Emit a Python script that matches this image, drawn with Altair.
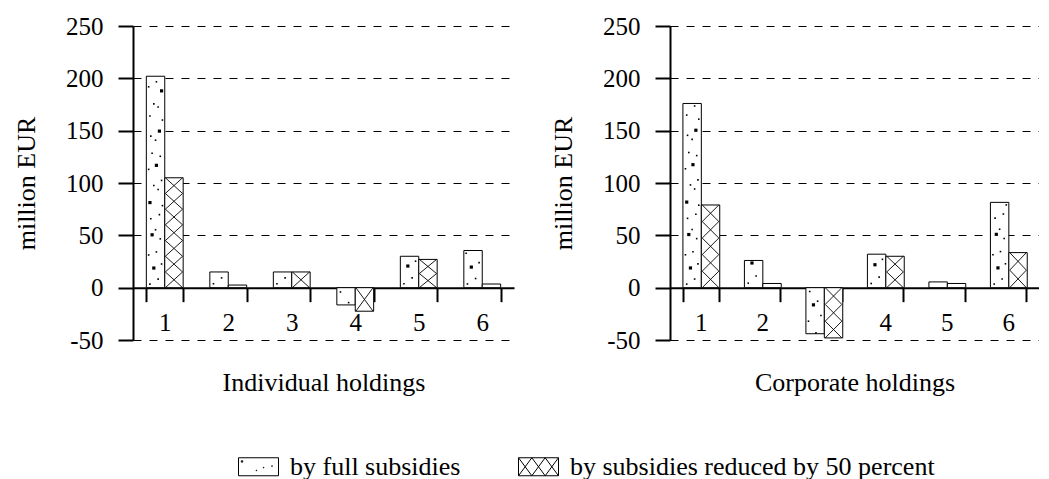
import altair as alt
import pandas as pd

# ---------------- data ----------------
categories = ["1", "2", "3", "4", "5", "6"]
series_names = ["by full subsidies", "by subsidies reduced by 50 percent"]
individual_full = [202, 15, 15, -16.5, 30, 35.5]
individual_reduced = [105, 2.5, 15, -22.5, 27, 3.5]
corporate_full = [176, 26, -44, 32, 5.5, 81.5]
corporate_reduced = [79, 4, -48, 30, 4, 33.5]
y_ticks = [-50, 0, 50, 100, 150, 200, 250]
panel_titles = ["Individual holdings", "Corporate holdings"]
y_title = "million EUR"

# ---------------- style ----------------
FONT = "Liberation Serif, Times New Roman, DejaVu Serif, serif"
PLOT_H = 314
Y_MIN, Y_MAX = -50, 250
PX = PLOT_H / (Y_MAX - Y_MIN)   # pixels per data unit
P_IN = 0.42


def table(full, reduced):
    rows = []
    for c, f, r in zip(categories, full, reduced):
        rows.append({"cat": c, "series": series_names[0], "value": f})
        rows.append({"cat": c, "series": series_names[1], "value": r})
    return pd.DataFrame(rows)


# legend swatches (custom symbol paths, unit = 20 px)
full_sym = ("M-1,-0.45H1V0.45H-1Z"
            "M-0.86,-0.3h0.07v0.07h-0.07Z"
            "M-0.12,0.17h0.03v0.03h-0.03Z"
            "M0.24,0.03h0.03v0.03h-0.03Z"
            "M0.66,-0.05h0.03v0.03h-0.03Z")
hatch_sym = "M-1,-0.45H1V0.45H-1Z"
for i in range(3):
    a = -1 + i * 2 / 3
    b = a + 2 / 3
    hatch_sym += f"M{a:.3f},-0.45L{b:.3f},0.45M{b:.3f},-0.45L{a:.3f},0.45"


def panel(full, reduced, title, width, with_legend):
    df = table(full, reduced)
    step = width / 6
    sub = step * (1 - P_IN) / 2
    hw = sub / 2 - 0.6

    x_axis = alt.Axis(
        title=title, orient="bottom", offset=-(0 - Y_MIN) * PX,
        tickBand="extent", tickSize=14, tickWidth=2, domainWidth=2,
        labelFontSize=25, labelPadding=9, labelAngle=0,
        titleFontSize=26, titlePadding=34, minExtent=48, maxExtent=48,
        grid=False)
    y_axis = alt.Axis(
        title=y_title, values=y_ticks, labelExpr="'' + datum.value",
        tickSize=15, tickWidth=2, domainWidth=2, labelFontSize=25,
        labelPadding=15, titleFontSize=26, titlePadding=24,
        minExtent=70, maxExtent=70,
        grid=True, gridDash=[8, 8], gridColor="black", gridWidth=1)

    def X():
        return alt.X("cat:N", sort=categories,
                     scale=alt.Scale(paddingInner=P_IN, paddingOuter=P_IN / 2),
                     axis=x_axis)

    def XO():
        return alt.XOffset("series:N", sort=series_names,
                           scale=alt.Scale(domain=series_names, paddingInner=0, paddingOuter=0))

    def Y(field):
        return alt.Y(f"{field}:Q", scale=alt.Scale(domain=[Y_MIN, Y_MAX], nice=False, zero=False),
                     axis=y_axis)

    base = alt.Chart(df)

    bars = base.mark_bar(fill="white", stroke="black", strokeWidth=1, opacity=1).encode(
        x=X(), xOffset=XO(), y=Y("value"))

    hatch = (
        base.transform_filter(alt.datum.series == series_names[1])
        .transform_calculate(hpx=f"abs(datum.value) * {PX}")
        .transform_calculate(n="datum.hpx < 6 ? 0 : max(1, round(datum.hpx / 16))")
        .transform_calculate(cp="datum.n > 0 ? datum.hpx / datum.n / 2 : 0",
                             idx="sequence(0, datum.n)")
        .transform_flatten(["idx"])
        .transform_calculate(
            ymid="(datum.idx + 0.5) * datum.value / datum.n",
            path=(f"'M-{hw:.2f},' + (-datum.cp) + 'L{hw:.2f},' + datum.cp + "
                  f"'M{hw:.2f},' + (-datum.cp) + 'L-{hw:.2f},' + datum.cp"))
        .mark_point(size=4, filled=False, stroke="black", strokeWidth=0.9, opacity=1)
        .encode(x=X(), xOffset=XO(), y=Y("ymid"), shape=alt.Shape("path:N", scale=None))
    )

    dots = (
        base.transform_filter(alt.datum.series == series_names[0])
        .transform_calculate(hpx=f"abs(datum.value) * {PX}")
        .transform_calculate(m="floor(datum.hpx / 7)")
        .transform_calculate(idx="sequence(0, datum.m)")
        .transform_flatten(["idx"])
        .transform_calculate(
            ymid="(datum.idx + 0.5) * datum.value / datum.m",
            dx=f"[-0.65, 0.3, -0.2, 0.7, -0.8, 0.1, 0.55, -0.4, 0.0, -0.55, 0.45, 0.8][datum.idx % 12] * {hw:.2f}",
            dy="[0, 2, -2, 1, -1, 3, -3][datum.idx % 7]",
            r="datum.idx % 5 == 2 ? 1.6 : 0.8")
        .transform_calculate(
            path="'M' + (datum.dx - datum.r) + ',' + (datum.dy - datum.r) + 'h' + (2 * datum.r) + "
                 "'v' + (2 * datum.r) + 'h' + (-2 * datum.r) + 'z'")
        .mark_point(size=4, filled=True, color="black", strokeWidth=0, opacity=1)
        .encode(x=X(), xOffset=XO(), y=Y("ymid"), shape=alt.Shape("path:N", scale=None))
    )

    layers = [bars, hatch, dots]
    if with_legend:
        leg = (
            base.transform_filter("false")
            .mark_point(size=1600, filled=False, opacity=1)
            .encode(shape=alt.Shape(
                "series:N",
                scale=alt.Scale(domain=series_names, range=[full_sym, hatch_sym]),
                legend=alt.Legend(
                    title=None, orient="none", legendX=105, legendY=420,
                    direction="horizontal", symbolSize=1600,
                    symbolFillColor="white", symbolStrokeColor="black",
                    symbolStrokeWidth=1, symbolOpacity=1,
                    labelFont=FONT, labelFontSize=26, labelColor="black",
                    labelOffset=11, columnPadding=55, labelLimit=0)))
        )
        layers.append(leg)

    return alt.layer(*layers).resolve_scale(shape="independent").properties(
        width=width, height=PLOT_H)


left = panel(individual_full, individual_reduced, panel_titles[0], 381, True)
right = panel(corporate_full, corporate_reduced, panel_titles[1], 369, False)

chart = (
    alt.hconcat(left, right, spacing=156, bounds="flush")
    .properties(padding={"left": 5, "top": 6, "right": 0, "bottom": 0})
    .configure_view(stroke=None)
    .configure_axis(labelFont=FONT, titleFont=FONT, titleFontWeight="normal",
                    labelColor="black", titleColor="black",
                    domainColor="black", tickColor="black")
)

chart.save("out.html", embed_options={"renderer": "svg", "actions": False})
